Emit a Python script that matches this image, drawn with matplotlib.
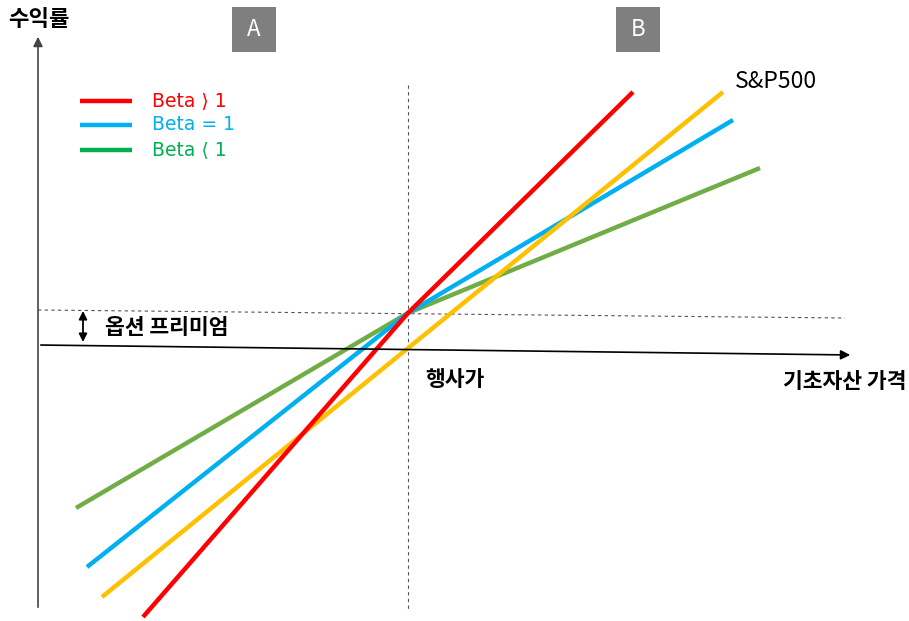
import matplotlib
matplotlib.use("Agg")
import matplotlib.pyplot as plt

plt.rcParams['font.family'] = ['Noto Sans CJK KR', 'DejaVu Sans']

# line vertices in picture pixels (x, y from top): start, strike point, end
red_x = [143, 408, 633]
red_y = [617, 313, 92]
blue_x = [87, 408, 733]
blue_y = [567, 313, 120]
green_x = [76, 408, 760]
green_y = [508, 313, 168]
yellow_x = [102, 723]
yellow_y = [597, 92]

legend_labels = ['Beta \u27e9 1', 'Beta = 1', 'Beta \u27e8 1']

fig = plt.figure(figsize=(9.09, 6.21), dpi=100)
ax = fig.add_axes([0, 0, 1, 1])
ax.set_xlim(0, 909)
ax.set_ylim(621, 0)
ax.axis('off')

# axes arrows
ax.annotate('', xy=(853, 355), xytext=(38, 345),
            arrowprops=dict(arrowstyle='-|>', color='black', lw=1.2, mutation_scale=14))
ax.annotate('', xy=(38, 34), xytext=(38, 610),
            arrowprops=dict(arrowstyle='-|>', color='#444444', lw=1.2, mutation_scale=14))

# dashed guides
ax.plot([38, 845], [310, 318], ls=(0, (3, 3)), c='#555555', lw=0.8)
ax.plot([408, 408], [85, 610], ls=(0, (3, 3)), c='#555555', lw=0.8)

# option premium arrow
ax.annotate('', xy=(83, 342), xytext=(83, 311),
            arrowprops=dict(arrowstyle='<|-|>', color='black', lw=1.3, mutation_scale=12,
                            shrinkA=0, shrinkB=0))

ax.plot(green_x, green_y, c='#70AD47', lw=3.2, solid_capstyle='butt')
ax.plot(blue_x, blue_y, c='#00B0F0', lw=3.2, solid_capstyle='butt')
ax.plot(yellow_x, yellow_y, c='#FFC000', lw=3.2, solid_capstyle='butt')
ax.plot(red_x, red_y, c='#FF0000', lw=3.2, solid_capstyle='butt')

# legend
leg_cols = ['#FF0000', '#00B0F0', '#00B050']
leg_y = [101, 125, 150]
for lab, col, yy in zip(legend_labels, leg_cols, leg_y):
    ax.plot([80, 132], [yy, yy], c=col, lw=3.2, solid_capstyle='butt')
    ax.text(152, yy, lab, color=col, fontsize=13.5, va='center', ha='left',
            family=['DejaVu Sans', 'Noto Sans CJK KR'])

# boxes A and B
for x0, lab in [(232, 'A'), (616, 'B')]:
    ax.add_patch(plt.Rectangle((x0, 7), 44, 45, fc='#7F7F7F', ec='none'))
    ax.text(x0 + 22, 30, lab, color='white', fontsize=16, ha='center', va='center')

ax.text(39, 19, '수익률', fontsize=16, fontweight='bold', ha='center', va='center')
ax.text(105, 327, '옵션 프리미엄', fontsize=15.5, fontweight='bold', ha='left', va='center')
ax.text(425, 380, '행사가', fontsize=15.5, fontweight='bold', ha='left', va='center')
ax.text(906, 382, '기초자산 가격', fontsize=15.5, fontweight='bold', ha='right', va='center')
ax.text(735, 82, 'S&P500', fontsize=16.5, ha='left', va='center')

fig.savefig('out.png', dpi=100)
